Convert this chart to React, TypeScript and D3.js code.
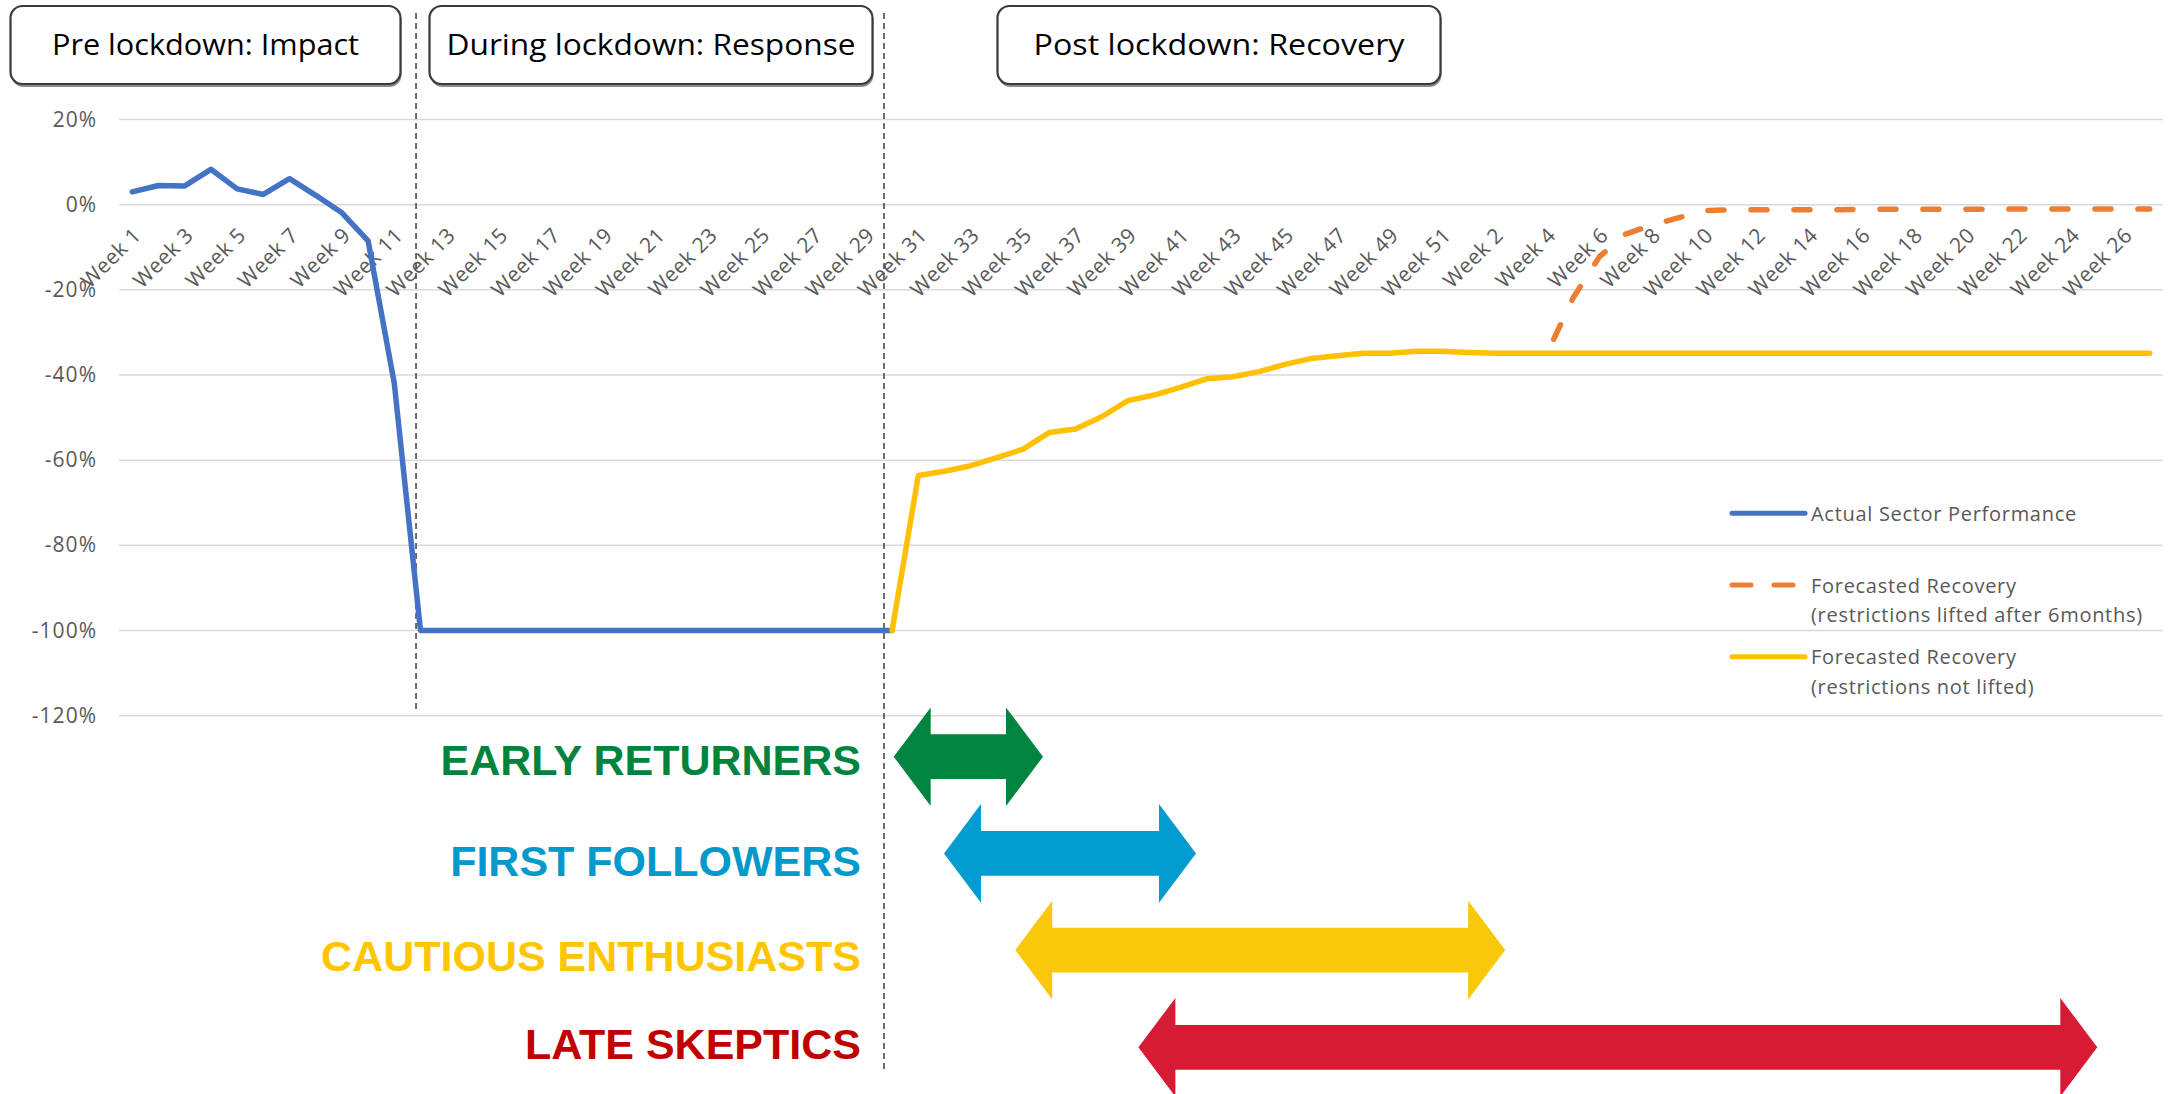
import React, { Component } from 'react';
import * as d3 from 'd3';

// x categories: 51 weeks of year one, then 27 weeks of year two
const weeks = [
  'Week 1', 'Week 2', 'Week 3', 'Week 4', 'Week 5', 'Week 6', 'Week 7', 'Week 8', 'Week 9', 'Week 10',
  'Week 11', 'Week 12', 'Week 13', 'Week 14', 'Week 15', 'Week 16', 'Week 17', 'Week 18', 'Week 19', 'Week 20',
  'Week 21', 'Week 22', 'Week 23', 'Week 24', 'Week 25', 'Week 26', 'Week 27', 'Week 28', 'Week 29', 'Week 30',
  'Week 31', 'Week 32', 'Week 33', 'Week 34', 'Week 35', 'Week 36', 'Week 37', 'Week 38', 'Week 39', 'Week 40',
  'Week 41', 'Week 42', 'Week 43', 'Week 44', 'Week 45', 'Week 46', 'Week 47', 'Week 48', 'Week 49', 'Week 50',
  'Week 51',
  'Week 1', 'Week 2', 'Week 3', 'Week 4', 'Week 5', 'Week 6', 'Week 7', 'Week 8', 'Week 9', 'Week 10',
  'Week 11', 'Week 12', 'Week 13', 'Week 14', 'Week 15', 'Week 16', 'Week 17', 'Week 18', 'Week 19', 'Week 20',
  'Week 21', 'Week 22', 'Week 23', 'Week 24', 'Week 25', 'Week 26', 'Week 27',
];

const yTicks = [-120, -100, -80, -60, -40, -20, 0, 20];

// series (percent), each starts at a category index
const actualStart = 0;
const actualPerformance = [
  3.0, 4.5, 4.4, 8.3, 3.7, 2.4, 6.1, 2.2, -1.9, -8.5, -42.0,
  -100, -100, -100, -100, -100, -100, -100, -100, -100, -100,
  -100, -100, -100, -100, -100, -100, -100, -100, -100,
];

const liftedStart = 54;
const recoveryLifted = [
  -34.9, -21.8, -12.2, -6.9, -4.8, -3.1, -1.4,
  -1.2, -1.2, -1.2, -1.2, -1.2, -1.1, -1.1, -1.1, -1.1, -1.1, -1.1,
  -1.0, -1.0, -1.0, -1.0, -1.0, -1.0,
];

const notLiftedStart = 29;
const recoveryNotLifted = [
  -100, -63.6, -62.6, -61.3, -59.4, -57.4, -53.5, -52.7, -49.8, -46.0,
  -44.7, -42.9, -40.9, -40.4, -39.2, -37.5, -36.1, -35.5, -34.9, -34.9,
  -34.4, -34.4, -34.7,
  -34.9, -34.9, -34.9, -34.9, -34.9, -34.9, -34.9, -34.9, -34.9, -34.9,
  -34.9, -34.9, -34.9, -34.9, -34.9, -34.9, -34.9, -34.9, -34.9, -34.9,
  -34.9, -34.9, -34.9, -34.9, -34.9, -34.9,
];

// phase dividers, in category units
const phaseDividers = [10.83, 28.69];
const phaseTitles = ['Pre lockdown: Impact', 'During lockdown: Response', 'Post lockdown: Recovery'];

// customer segments, span in category units
const segmentNames = ['EARLY RETURNERS', 'FIRST FOLLOWERS', 'CAUTIOUS ENTHUSIASTS', 'LATE SKEPTICS'];
const segmentStart = [29.06, 30.98, 33.7, 38.4];
const segmentEnd = [34.76, 40.6, 52.4, 75.0];

const legendNames = [
  ['Actual Sector Performance'],
  ['Forecasted Recovery', '(restrictions lifted after 6months)'],
  ['Forecasted Recovery', '(restrictions not lifted)'],
];

const W = 2172;
const H = 1094;
const GREY = '#595959';
const FONT = "'Open Sans', sans-serif";

class RecoveryChart extends Component {
  svgRef = React.createRef<SVGSVGElement>();

  componentDidMount() {
    this.drawChart();
  }

  drawChart() {
    const svg = d3.select(this.svgRef.current);
    svg.selectAll('*').remove();

    const x = d3.scaleBand<string>()
      .domain(weeks.map((_, i) => String(i)))
      .range([119.2, 2162.8]);
    const cx = (i: number) => (x(String(i)) as number) + x.bandwidth() / 2;
    const xAt = d3.scaleLinear().domain([0, weeks.length - 1]).range([cx(0), cx(weeks.length - 1)]);
    const y = d3.scaleLinear().domain([-120, 20]).range([715.7, 119.5]);

    // gridlines
    svg.append('g').selectAll('line').data(yTicks).join('line')
      .attr('x1', x.range()[0]).attr('x2', x.range()[1])
      .attr('y1', d => y(d)).attr('y2', d => y(d))
      .attr('stroke', '#d9d9d9').attr('stroke-width', 1.5);

    svg.append('g').selectAll('text').data(yTicks).join('text')
      .attr('x', 97).attr('y', d => y(d) + 7)
      .attr('text-anchor', 'end')
      .attr('font-family', FONT).attr('font-size', 21).attr('letter-spacing', 1)
      .attr('fill', GREY)
      .text(d => `${d}%`);

    // category labels, every other week
    svg.append('g').selectAll('text')
      .data(weeks.map((w, i) => ({ w, i })).filter(d => d.i % 2 === 0))
      .join('text')
      .attr('transform', d => `translate(${cx(d.i) + 10},${y(0) + 32}) rotate(-45)`)
      .attr('text-anchor', 'end')
      .attr('font-family', FONT).attr('font-size', 21).attr('letter-spacing', 0.5)
      .attr('fill', GREY)
      .text(d => d.w);

    // phase dividers
    const dividerBottom = [712, 1070];
    svg.append('g').selectAll('line').data(phaseDividers).join('line')
      .attr('x1', d => xAt(d)).attr('x2', d => xAt(d))
      .attr('y1', 13).attr('y2', (_, i) => dividerBottom[i])
      .attr('stroke', '#404040').attr('stroke-width', 1.5).attr('stroke-dasharray', '6 4');

    // phase title boxes
    const boxes = [[10.5, 400.5], [429.5, 872.5], [997.5, 1440.5]];
    const titleWidth = [307, 409, 371];
    const titles = svg.append('g').selectAll('g').data(phaseTitles).join('g');
    titles.append('rect')
      .attr('x', (_, i) => boxes[i][0] + 1).attr('y', 9)
      .attr('width', (_, i) => boxes[i][1] - boxes[i][0]).attr('height', 78)
      .attr('rx', 12).attr('fill', '#8c8c8c');
    titles.append('rect')
      .attr('x', (_, i) => boxes[i][0]).attr('y', 6)
      .attr('width', (_, i) => boxes[i][1] - boxes[i][0]).attr('height', 78)
      .attr('rx', 12).attr('fill', '#fff')
      .attr('stroke', '#3a3a3a').attr('stroke-width', 2.2);
    titles.append('text')
      .attr('x', (_, i) => (boxes[i][0] + boxes[i][1]) / 2).attr('y', 55)
      .attr('text-anchor', 'middle')
      .attr('textLength', (_, i) => titleWidth[i]).attr('lengthAdjust', 'spacingAndGlyphs')
      .attr('font-family', FONT).attr('font-size', 30).attr('fill', '#000')
      .text(d => d);

    // series
    const line = (start: number) => d3.line<number>()
      .x((_, i) => cx(start + i))
      .y(d => y(d));

    svg.append('path').datum(actualPerformance)
      .attr('d', line(actualStart))
      .attr('fill', 'none').attr('stroke', '#4472c4').attr('stroke-width', 5.5)
      .attr('stroke-linejoin', 'round').attr('stroke-linecap', 'round');

    svg.append('path').datum(recoveryLifted)
      .attr('d', line(liftedStart))
      .attr('fill', 'none').attr('stroke', '#ed7d31').attr('stroke-width', 5.5)
      .attr('stroke-linejoin', 'round').attr('stroke-linecap', 'round')
      .attr('stroke-dasharray', '16 27').attr('stroke-dashoffset', 27.5);

    svg.append('path').datum(recoveryNotLifted)
      .attr('d', line(notLiftedStart))
      .attr('fill', 'none').attr('stroke', '#ffc000').attr('stroke-width', 5.5)
      .attr('stroke-linejoin', 'round').attr('stroke-linecap', 'round');

    // legend
    const legendY = [513.3, 585, 656.7];
    const legendColor = ['#4472c4', '#ed7d31', '#ffc000'];
    const legend = svg.append('g').selectAll('g').data(legendNames).join('g');
    legend.append('line')
      .attr('x1', 1732).attr('x2', 1805)
      .attr('y1', (_, i) => legendY[i]).attr('y2', (_, i) => legendY[i])
      .attr('stroke', (_, i) => legendColor[i]).attr('stroke-width', 5)
      .attr('stroke-linecap', 'round')
      .attr('stroke-dasharray', (_, i) => (i === 1 ? '19 23' : null));
    legend.each(function (d, i) {
      d3.select(this).selectAll('text').data(d).join('text')
        .attr('x', 1811).attr('y', (_, j) => legendY[i] + 7.5 + j * 29.4)
        .attr('font-family', FONT).attr('font-size', 20).attr('letter-spacing', 0.7)
        .attr('fill', GREY)
        .text(t => t);
    });

    // segment arrows
    const rowY = [756.7, 853.4, 950.1, 1047.3];
    const labelY = [775, 876, 971, 1059];
    const arrowColor = ['#01843e', '#009bcf', '#fac80a', '#d71b35'];
    const textColor = ['#00843d', '#0099cc', '#ffc600', '#c00000'];
    const head = 37, half = 49.3, shaft = 22.4;
    const arrowPath = (x0: number, x1: number, c: number) => {
      const p = d3.path();
      p.moveTo(x0, c);
      p.lineTo(x0 + head, c - half);
      p.lineTo(x0 + head, c - shaft);
      p.lineTo(x1 - head, c - shaft);
      p.lineTo(x1 - head, c - half);
      p.lineTo(x1, c);
      p.lineTo(x1 - head, c + half);
      p.lineTo(x1 - head, c + shaft);
      p.lineTo(x0 + head, c + shaft);
      p.lineTo(x0 + head, c + half);
      p.closePath();
      return p.toString();
    };

    svg.append('g').selectAll('path').data(segmentNames).join('path')
      .attr('d', (_, i) => arrowPath(xAt(segmentStart[i]), xAt(segmentEnd[i]), rowY[i]))
      .attr('fill', (_, i) => arrowColor[i]);

    svg.append('g').selectAll('text').data(segmentNames).join('text')
      .attr('x', 861).attr('y', (_, i) => labelY[i])
      .attr('text-anchor', 'end')
      .attr('font-family', "'Liberation Sans', Arial, sans-serif")
      .attr('font-weight', 'bold').attr('font-size', 43)
      .attr('fill', (_, i) => textColor[i])
      .text(d => d);
  }

  render() {
    return (
      <svg
        ref={this.svgRef}
        width={W}
        height={H}
        style={{ position: 'absolute', left: 0, top: 0, display: 'block', background: '#fff' }}
      />
    );
  }
}

export default function App() {
  return <RecoveryChart />;
}
